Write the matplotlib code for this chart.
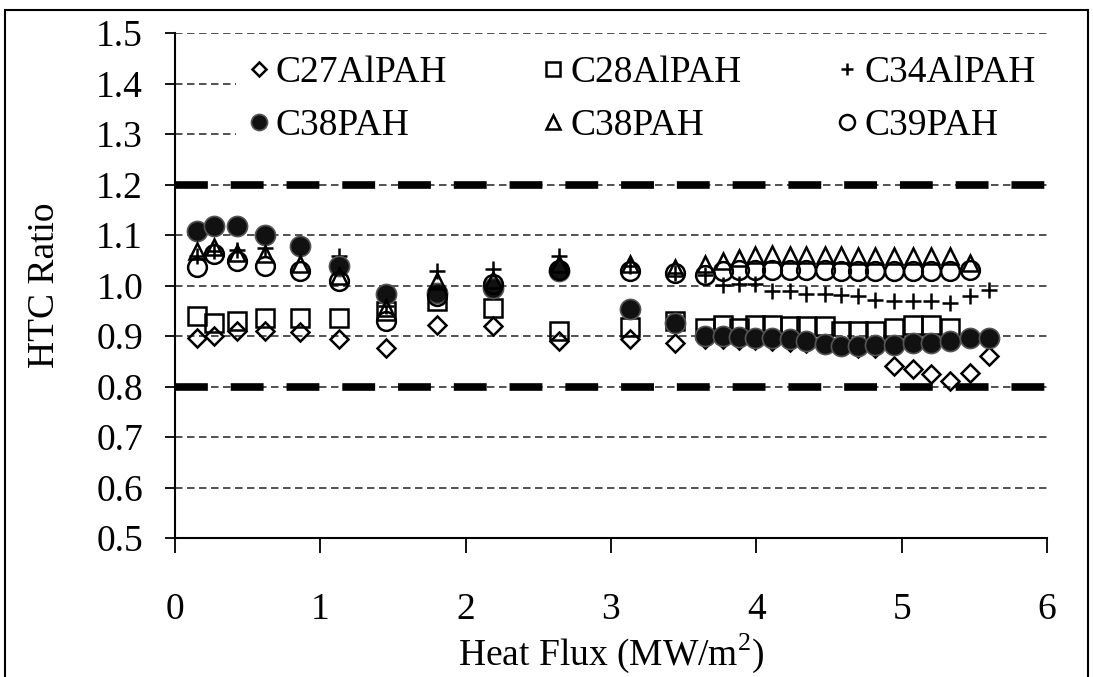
import matplotlib.pyplot as plt
import matplotlib.patches as patches

plt.rcParams['font.family'] = ['Liberation Serif', 'DejaVu Serif']
plt.rcParams['mathtext.fontset'] = 'custom'
plt.rcParams['mathtext.rm'] = 'Liberation Serif'

# heat flux steps (MW/m2): coarse sweep, then fine sweep
flux_coarse = [0.15, 0.27, 0.43, 0.62, 0.86, 1.13, 1.45, 1.80, 2.19, 2.64, 3.13, 3.44]
flux_fine = [3.65, 3.77, 3.88, 3.99, 4.11, 4.23, 4.34, 4.47, 4.58, 4.70,
             4.82, 4.95, 5.08, 5.20, 5.33, 5.47, 5.60]

# HTC ratio per heater, coarse points first, then fine points
c27alpah = [0.897, 0.900, 0.910, 0.910, 0.907, 0.894, 0.877, 0.922, 0.920, 0.890, 0.894, 0.887,
            0.895, 0.895, 0.893, 0.892, 0.890, 0.888, 0.886, 0.884, 0.880, 0.876,
            0.876, 0.841, 0.835, 0.825, 0.811, 0.827, 0.860]
c28alpah = [0.940, 0.926, 0.930, 0.936, 0.936, 0.936, 0.950, 0.970, 0.956, 0.910, 0.917, 0.930,
            0.916, 0.922, 0.916, 0.922, 0.922, 0.919, 0.920, 0.920, 0.909, 0.909,
            0.909, 0.915, 0.922, 0.922, 0.915]
c34alpah = [1.058, 1.068, 1.070, 1.075, 1.085, 1.058, 0.960, 1.029, 1.032, 1.058, 1.038, 1.025,
            1.020, 1.001, 1.004, 1.004, 0.990, 0.989, 0.983, 0.984, 0.981, 0.980,
            0.972, 0.969, 0.969, 0.969, 0.966, 0.979, 0.992]
c38pah_a = [1.108, 1.118, 1.118, 1.101, 1.078, 1.039, 0.983, 0.986, 0.996, 1.029, 0.953, 0.926,
            0.900, 0.900, 0.898, 0.896, 0.896, 0.894, 0.890, 0.884, 0.880, 0.880,
            0.882, 0.882, 0.887, 0.887, 0.890, 0.897, 0.897]
c38pah_b = [1.068, 1.076, 1.065, 1.062, 1.042, 1.019, 0.956, 1.009, 1.010, 1.042, 1.043, 1.035,
            1.042, 1.049, 1.055, 1.060, 1.062, 1.060, 1.060, 1.060, 1.060, 1.058,
            1.058, 1.058, 1.058, 1.058, 1.058, 1.045]
c39pah = [1.037, 1.063, 1.049, 1.039, 1.029, 1.009, 0.930, 0.980, 1.003, 1.030, 1.029, 1.025,
          1.020, 1.028, 1.030, 1.030, 1.030, 1.030, 1.030, 1.030, 1.028, 1.028,
          1.028, 1.028, 1.028, 1.028, 1.028, 1.030]

# +/-20% agreement band
band = [0.8, 1.2]

flux_all = flux_coarse + flux_fine


def xs(vals):
    return flux_all[:len(vals)]


fig = plt.figure(figsize=(10.93, 6.77), dpi=100)
ax = fig.add_axes([0.1601, 0.2053, 0.7978, 0.7459])

ax.set_xlim(0, 6)
ax.set_ylim(0.5, 1.5)
ax.set_yticks([0.5, 0.6, 0.7, 0.8, 0.9, 1.0, 1.1, 1.2, 1.3, 1.4, 1.5])
ax.set_xticks([0, 1, 2, 3, 4, 5, 6])
ax.yaxis.set_major_formatter(plt.FormatStrFormatter('%.1f'))

ax.set_axisbelow(True)
ax.grid(axis='y', linestyle=(0, (4.5, 2.7)), linewidth=1.2, color='#333333')
for b in band:
    ax.axhline(b, color='black', linewidth=5.5, linestyle=(0, (4.3, 3.0)), zorder=1.5)

ew = 1.8
h27, = ax.plot(xs(c27alpah), c27alpah, 'D', ms=8.7, mfc='none', mec='black', mew=ew,
               linestyle='none', label='C27AlPAH')
h28, = ax.plot(xs(c28alpah), c28alpah, 's', ms=12.5, mfc='none', mec='black', mew=ew,
               linestyle='none', label='C28AlPAH')
h34, = ax.plot(xs(c34alpah), c34alpah, '+', ms=11.5, mec='black', mew=ew,
               linestyle='none', label='C34AlPAH')
h38a, = ax.plot(xs(c38pah_a), c38pah_a, 'o', ms=14.5, mfc='#111111', mec='#555555', mew=1.2,
                linestyle='none', label='C38PAH')
h38b, = ax.plot(xs(c38pah_b), c38pah_b, '^', ms=12, mfc='none', mec='black', mew=ew,
                linestyle='none', label='C38PAH')
h39, = ax.plot(xs(c39pah), c39pah, 'o', ms=13.5, mfc='none', mec='black', mew=ew,
               linestyle='none', label='C39PAH')

for side in ['top', 'right']:
    ax.spines[side].set_visible(False)
for side in ['left', 'bottom']:
    ax.spines[side].set_linewidth(1.5)

ax.tick_params(axis='y', direction='out', length=7, width=1.3, pad=16, labelsize=27)
ax.tick_params(axis='x', direction='out', length=11, width=1.3, pad=28, labelsize=27)

ax.set_ylabel('HTC Ratio', fontsize=27)
ax.set_xlabel('Heat Flux (MW/m$^{2}$)', fontsize=27)
ax.yaxis.set_label_coords(-0.13, 0.5)
ax.xaxis.set_label_coords(0.5, -0.185)

# legend fills column by column, so interleave to get two rows of three
handles = [h27, h38a, h28, h38b, h34, h39]
leg = ax.legend(handles=handles, labels=[h.get_label() for h in handles],
                loc='upper left', bbox_to_anchor=(0.07, 0.777, 0.93, 0.2), mode='expand',
                ncol=3, fontsize=27, frameon=True, fancybox=False, framealpha=1,
                edgecolor='none', facecolor='white', borderaxespad=0, borderpad=0.3,
                handlelength=0.6, handletextpad=0.15, labelspacing=0.48, markerscale=0.8)
leg.set_zorder(3)

fig.patches.append(patches.Rectangle((0.005, -0.01), 0.99, 0.995, transform=fig.transFigure,
                                     fill=False, edgecolor='black', linewidth=1.5))

fig.savefig('out.png', dpi=100)
